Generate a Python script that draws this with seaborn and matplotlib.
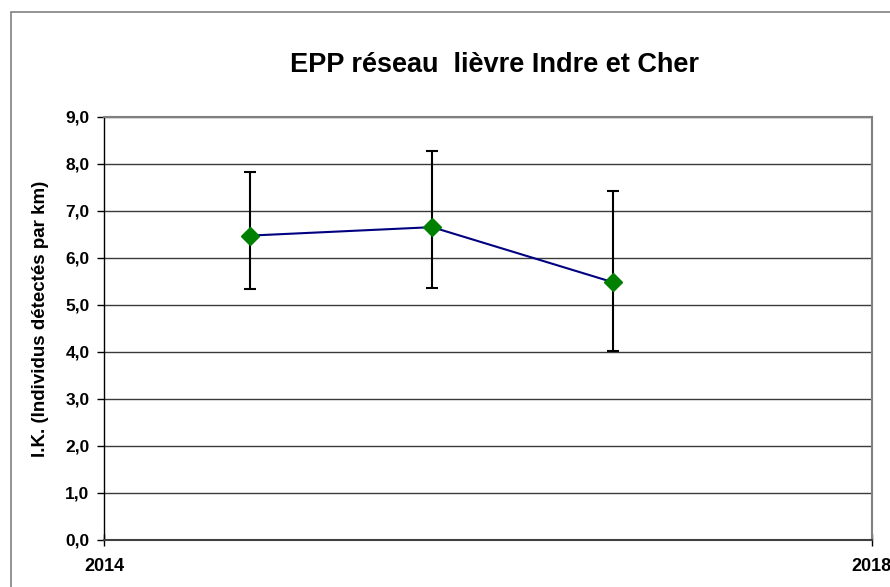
import matplotlib
matplotlib.use('Agg')
import matplotlib.pyplot as plt
import seaborn as sns
import pandas as pd
import numpy as np
from matplotlib.patches import Rectangle

# données
annees = [2014.76, 2015.71, 2016.65]
ik = [6.47, 6.65, 5.48]
ik_bas = [5.34, 5.36, 4.01]
ik_haut = [7.83, 8.26, 7.41]
y_ticks = [0, 1, 2, 3, 4, 5, 6, 7, 8, 9]
x_ticks = [2014, 2018]

sns.set_theme(style='white', rc={'text.color': 'black',
                                 'axes.labelcolor': 'black',
                                 'xtick.color': 'black',
                                 'ytick.color': 'black'})
plt.rcParams['font.family'] = ['Liberation Sans', 'DejaVu Sans']

df = pd.DataFrame({'annee': annees, 'ik': ik})

fig = plt.figure(figsize=(8.9, 5.87), dpi=100)
ax = fig.add_axes([104 / 890, 47.3 / 587, 767.7 / 890, 423 / 587])

# cadre extérieur
fig.patches.append(Rectangle((11 / 890, -0.1), 1.2, 1 - 12 / 587 + 0.1,
                             transform=fig.transFigure, fill=False,
                             edgecolor='#808080', linewidth=1.2))

for t in y_ticks[1:]:
    ax.axhline(t, color='#3a3a3a', linewidth=1.0, zorder=1)

sns.lineplot(data=df, x='annee', y='ik', ax=ax, color='#000080',
             linewidth=1.5, zorder=2)

err = [np.array(ik) - np.array(ik_bas), np.array(ik_haut) - np.array(ik)]
ax.errorbar(annees, ik, yerr=err, fmt='none', ecolor='black',
            elinewidth=1.5, capsize=4, capthick=1.5, zorder=3)

ax.plot(annees, ik, linestyle='none', marker='D', markersize=9,
        color='#008000', zorder=4)

ax.set_xlim(2014, 2018)
ax.set_ylim(0, 9)
ax.set_xticks(x_ticks)
ax.set_xticklabels([str(x) for x in x_ticks], fontsize=13, fontweight='bold')
ax.set_yticks(y_ticks)
ax.set_yticklabels([f'{t:.1f}'.replace('.', ',') for t in y_ticks],
                   fontsize=12.5, fontweight='bold')
ax.tick_params(axis='y', direction='out', length=5, width=1,
               left=True, pad=5.5)
ax.tick_params(axis='x', direction='inout', length=8, width=1,
               bottom=True, pad=9)

ax.set_xlabel('')
ax.set_ylabel('I.K. (Individus détectés par km)', fontsize=13.5,
              fontweight='bold')
ax.yaxis.set_label_coords(-0.0716, 0.522)

for side in ['top', 'right']:
    ax.spines[side].set_color('#808080')
    ax.spines[side].set_linewidth(1.5)
ax.spines['left'].set_color('black')
ax.spines['bottom'].set_color('#404040')
ax.spines['left'].set_linewidth(1.0)
ax.spines['bottom'].set_linewidth(1.5)

fig.text(494 / 890, 1 - 65 / 587, 'EPP réseau  lièvre Indre et Cher',
         ha='center', va='center', fontsize=19.5, fontweight='bold')

fig.savefig('out.png', dpi=100)
